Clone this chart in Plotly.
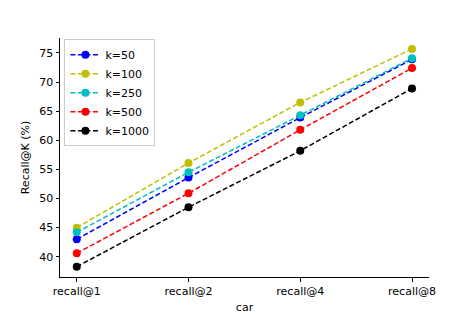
import plotly.graph_objects as go

categories = ["recall@1", "recall@2", "recall@4", "recall@8"]
series_names = ["k=50", "k=100", "k=250", "k=500", "k=1000"]
k50 = [43.0, 53.6, 63.9, 73.9]
k100 = [45.0, 56.1, 66.5, 75.7]
k250 = [44.2, 54.5, 64.3, 74.1]
k500 = [40.6, 50.9, 61.8, 72.4]
k1000 = [38.3, 48.5, 58.2, 68.9]
colors = ["#0000ff", "#bfbf00", "#00bfbf", "#ff0000", "#000000"]

fig = go.Figure()
for name, vals, col in zip(series_names, [k50, k100, k250, k500, k1000], colors):
    fig.add_trace(go.Scatter(
        x=categories, y=vals, name=name, mode="lines+markers",
        line=dict(color=col, width=1.5, dash="5px,2.5px"),
        marker=dict(color=col, size=8, symbol="circle"),
    ))

font = dict(family="DejaVu Sans", size=11, color="#000000")
fig.update_layout(
    width=476, height=317,
    margin=dict(l=60, r=47, t=38, b=40, autoexpand=False),
    paper_bgcolor="white", plot_bgcolor="white",
    font=font,
    showlegend=True,
    legend=dict(x=0.012, y=0.995, xanchor="left", yanchor="top",
                bordercolor="#cccccc", borderwidth=1, bgcolor="rgba(255,255,255,0.8)",
                font=dict(family="DejaVu Sans", size=11), itemwidth=30,
                tracegroupgap=0),
    xaxis=dict(
        type="category", range=[-0.15, 3.152], automargin=False,
        showline=True, linecolor="black", linewidth=1, mirror=False,
        ticks="outside", ticklen=3.5, tickcolor="black", tickwidth=1,
        showgrid=False, zeroline=False,
        title=dict(text="car", font=font, standoff=6),
    ),
    yaxis=dict(
        range=[36.52, 77.57], automargin=False,
        tickvals=[40, 45, 50, 55, 60, 65, 70, 75],
        showline=True, linecolor="black", linewidth=1, mirror=False,
        ticks="outside", ticklen=3.5, tickcolor="black", tickwidth=1,
        showgrid=False, zeroline=False,
        title=dict(text="Recall@K (%)", font=font, standoff=7),
    ),
)
fig.write_html("out.html", config={"displayModeBar": False},
               post_script="document.body.style.margin='0';document.body.style.overflow='hidden';")
